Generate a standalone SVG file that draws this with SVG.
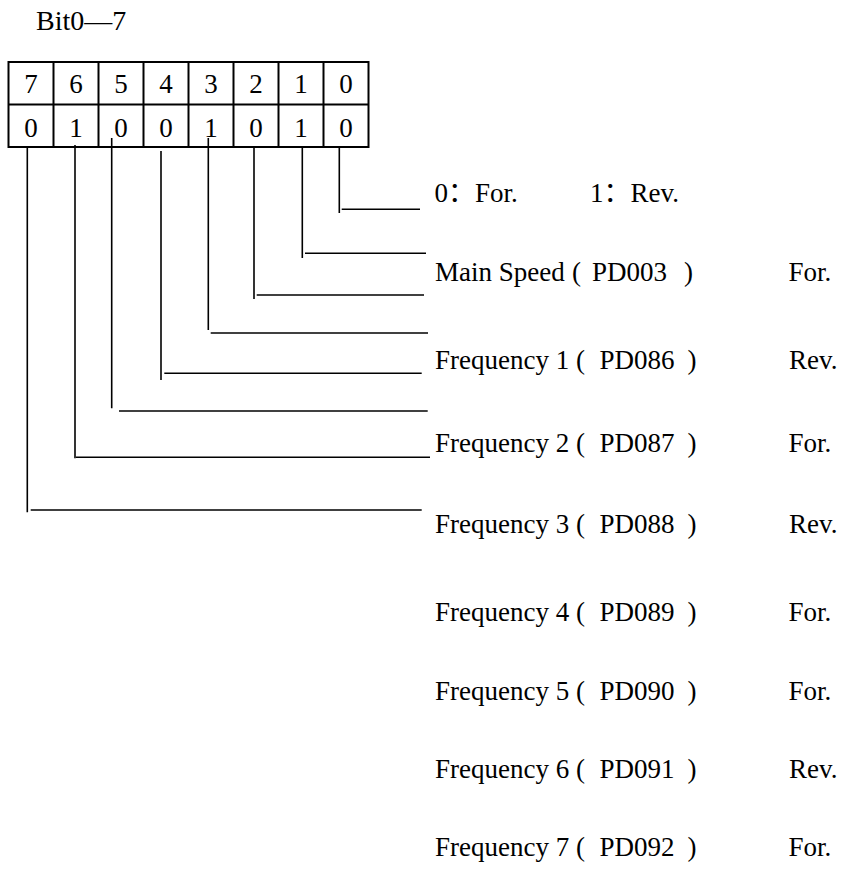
<svg xmlns="http://www.w3.org/2000/svg" width="843" height="872" viewBox="0 0 843 872">
<style>
text{font-family:"Liberation Serif","Times New Roman","Noto Sans CJK SC",serif;font-size:27px;fill:#000}
.d{text-anchor:middle}
.tb{fill:none;stroke:#000;stroke-width:2}
.c line{stroke:#000;stroke-width:1.6}
</style>
<rect width="843" height="872" fill="#fff"/>
<g id="title"><text x="36" y="30" style="font-size:28px">Bit0—7</text></g>
<g id="bit-table">
<rect class="tb" x="8.5" y="62" width="360" height="85"/>
<line class="tb" x1="8.5" y1="104.5" x2="368.5" y2="104.5"/>
<line class="tb" x1="53.5" y1="62" x2="53.5" y2="147"/>
<line class="tb" x1="98.5" y1="62" x2="98.5" y2="147"/>
<line class="tb" x1="143.5" y1="62" x2="143.5" y2="147"/>
<line class="tb" x1="188.5" y1="62" x2="188.5" y2="147"/>
<line class="tb" x1="233.5" y1="62" x2="233.5" y2="147"/>
<line class="tb" x1="278.5" y1="62" x2="278.5" y2="147"/>
<line class="tb" x1="323.5" y1="62" x2="323.5" y2="147"/>
<g id="bit-numbers">
<text class="d" x="31" y="93">7</text>
<text class="d" x="76" y="93">6</text>
<text class="d" x="121" y="93">5</text>
<text class="d" x="166" y="93">4</text>
<text class="d" x="211" y="93">3</text>
<text class="d" x="256" y="93">2</text>
<text class="d" x="301" y="93">1</text>
<text class="d" x="346" y="93">0</text>
</g>
<g id="bit-values">
<text class="d" x="31" y="136.5">0</text>
<text class="d" x="76" y="136.5">1</text>
<text class="d" x="121" y="136.5">0</text>
<text class="d" x="166" y="136.5">0</text>
<text class="d" x="211" y="136.5">1</text>
<text class="d" x="256" y="136.5">0</text>
<text class="d" x="301" y="136.5">1</text>
<text class="d" x="346" y="136.5">0</text>
</g>
</g>
<g id="connectors" class="c">
<line x1="339.3" y1="148" x2="339.3" y2="213"/><line x1="341.7" y1="209.3" x2="420" y2="209.3"/>
<line x1="302.3" y1="148" x2="302.3" y2="258"/><line x1="305" y1="253.3" x2="426" y2="253.3"/>
<line x1="254" y1="148" x2="254" y2="299"/><line x1="256.7" y1="295" x2="424" y2="295"/>
<line x1="208.3" y1="138" x2="208.3" y2="330"/><line x1="210.7" y1="333" x2="428" y2="333"/>
<line x1="161" y1="151" x2="161" y2="380"/><line x1="164.3" y1="373.3" x2="421.7" y2="373.3"/>
<line x1="111.7" y1="138" x2="111.7" y2="408.3"/><line x1="119" y1="411" x2="427.7" y2="411"/>
<line x1="75" y1="145" x2="75" y2="458.3"/><line x1="76" y1="457.3" x2="430" y2="457.3"/>
<line x1="27.3" y1="148" x2="27.3" y2="512.3"/><line x1="30.7" y1="510" x2="421.7" y2="510"/>
</g>
<g id="legend">
<text x="434.5" y="202">0：For.</text>
<text x="590" y="202">1：Rev.</text>
</g>
<g id="row-main-speed">
<text x="435" y="281">Main Speed<tspan x="572">(</tspan><tspan x="592">PD003</tspan><tspan x="684">)</tspan></text>
<text x="788.5" y="281">For.</text>
</g>
<g id="row-frequency-1">
<text x="435" y="369">Frequency 1<tspan x="576">(</tspan><tspan x="599.5">PD086</tspan><tspan x="687.5">)</tspan></text>
<text x="789" y="369">Rev.</text>
</g>
<g id="row-frequency-2">
<text x="435" y="452">Frequency 2<tspan x="576">(</tspan><tspan x="599.5">PD087</tspan><tspan x="687.5">)</tspan></text>
<text x="788.5" y="452">For.</text>
</g>
<g id="row-frequency-3">
<text x="435" y="533">Frequency 3<tspan x="576">(</tspan><tspan x="599.5">PD088</tspan><tspan x="687.5">)</tspan></text>
<text x="789" y="533">Rev.</text>
</g>
<g id="row-frequency-4">
<text x="435" y="621">Frequency 4<tspan x="576">(</tspan><tspan x="599.5">PD089</tspan><tspan x="687.5">)</tspan></text>
<text x="788.5" y="621">For.</text>
</g>
<g id="row-frequency-5">
<text x="435" y="700">Frequency 5<tspan x="576">(</tspan><tspan x="599.5">PD090</tspan><tspan x="687.5">)</tspan></text>
<text x="788.5" y="700">For.</text>
</g>
<g id="row-frequency-6">
<text x="435" y="778">Frequency 6<tspan x="576">(</tspan><tspan x="599.5">PD091</tspan><tspan x="687.5">)</tspan></text>
<text x="789" y="778">Rev.</text>
</g>
<g id="row-frequency-7">
<text x="435" y="856">Frequency 7<tspan x="576">(</tspan><tspan x="599.5">PD092</tspan><tspan x="687.5">)</tspan></text>
<text x="788.5" y="856">For.</text>
</g>
</svg>
